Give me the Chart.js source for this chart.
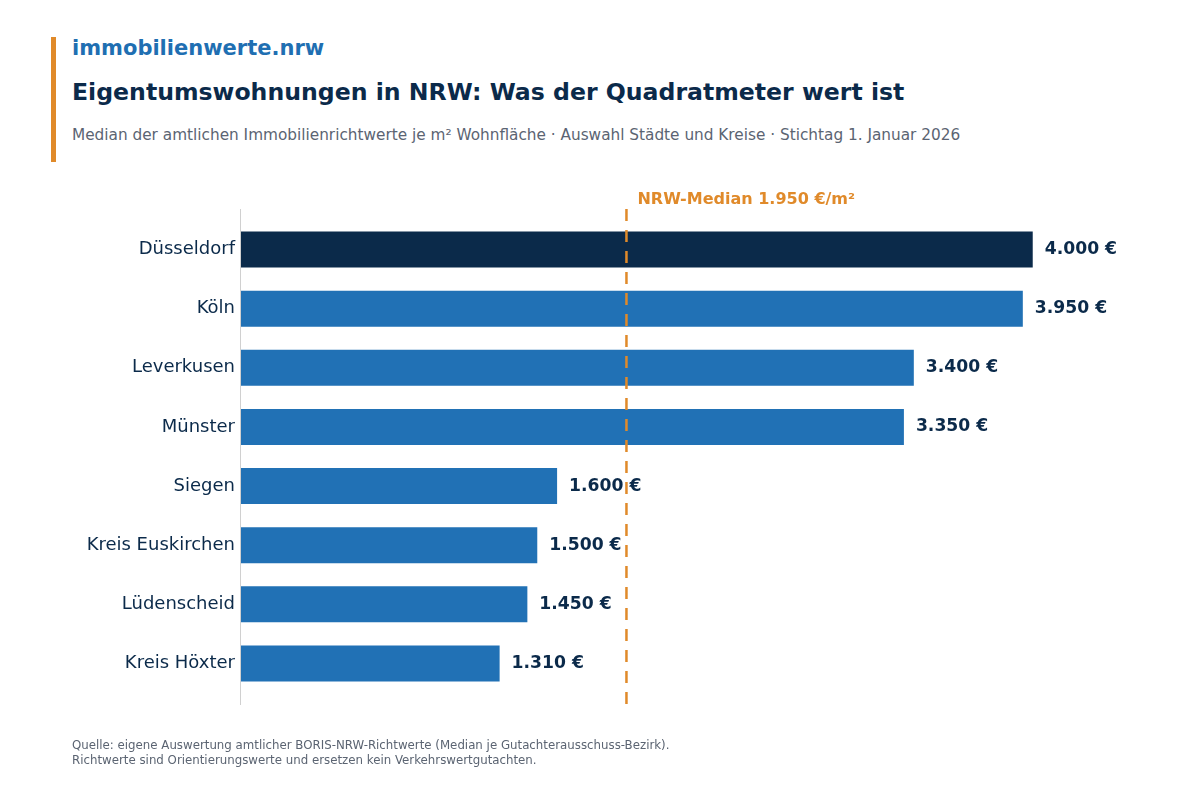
<!DOCTYPE html>
<html lang="de">
<head>
    <meta charset="UTF-8">
    <title>Eigentumswohnungen in NRW</title>
    <script src="https://cdn.jsdelivr.net/npm/chart.js@4"></script>
    <style>
        html, body { margin: 0; padding: 0; background: #fff; }
        body { width: 1200px; height: 800px; position: relative; overflow: hidden; font-family: "DejaVu Sans", sans-serif; }
        .accent { position: absolute; left: 51px; top: 37px; width: 5px; height: 125px; background: #e08a2a; }
        .brand { position: absolute; left: 72px; top: 36px; font-size: 21px; font-weight: 700; color: #1f6fb2; }
        .title { position: absolute; left: 72px; top: 78px; font-size: 23.6px; font-weight: 700; color: #0b2a4a; }
        .subtitle { position: absolute; left: 72px; top: 126px; font-size: 15.3px; color: #5b6472; }
        .footer { position: absolute; left: 72px; top: 738px; font-size: 11.8px; line-height: 15px; color: #5b6472; }
        #wrap { position: absolute; left: 0; top: 0; width: 1200px; height: 800px; }
    </style>
</head>
<body>
    <div class="accent"></div>
    <div class="brand">immobilienwerte.nrw</div>
    <div class="title">Eigentumswohnungen in NRW: Was der Quadratmeter wert ist</div>
    <div class="subtitle">Median der amtlichen Immobilienrichtwerte je m² Wohnfläche · Auswahl Städte und Kreise · Stichtag 1. Januar 2026</div>
    <div id="wrap"><canvas id="chart"></canvas></div>
    <div class="footer">Quelle: eigene Auswertung amtlicher BORIS-NRW-Richtwerte (Median je Gutachterausschuss-Bezirk).<br>Richtwerte sind Orientierungswerte und ersetzen kein Verkehrswertgutachten.</div>
    <script>
        const regionen = ['Düsseldorf', 'Köln', 'Leverkusen', 'Münster', 'Siegen', 'Kreis Euskirchen', 'Lüdenscheid', 'Kreis Höxter'];
        const werte = [4000, 3950, 3400, 3350, 1600, 1500, 1450, 1310];
        const nrwMedian = 1950;

        const navy = '#0b2a4a';
        const blau = '#2171b5';
        const orange = '#e08a2a';

        function euro(v) {
            return String(v).replace(/\B(?=(\d{3})+(?!\d))/g, '.') + ' €';
        }

        // Werte rechts neben den Balken + Medianlinie
        const overlay = {
            id: 'overlay',
            afterDatasetsDraw(chart) {
                const { ctx, chartArea, scales } = chart;
                const top = chartArea.top - 11, bottom = chartArea.bottom + 12;
                ctx.save();
                // linke Achsenlinie
                ctx.strokeStyle = '#d0d0d0';
                ctx.lineWidth = 1;
                ctx.beginPath();
                ctx.moveTo(chartArea.left + 0.5, top);
                ctx.lineTo(chartArea.left + 0.5, bottom);
                ctx.stroke();

                // Balkenbeschriftung
                ctx.font = 'bold 17.2px "DejaVu Sans"';
                ctx.fillStyle = navy;
                ctx.textBaseline = 'middle';
                ctx.textAlign = 'left';
                chart.getDatasetMeta(0).data.forEach((bar, i) => {
                    ctx.fillText(euro(werte[i]), bar.x + 12, bar.y);
                });

                // NRW-Median
                const x = scales.x.getPixelForValue(nrwMedian);
                ctx.strokeStyle = orange;
                ctx.lineWidth = 2.5;
                ctx.setLineDash([12, 9]);
                ctx.beginPath();
                ctx.moveTo(x, top);
                ctx.lineTo(x, bottom);
                ctx.stroke();
                ctx.setLineDash([]);
                ctx.font = 'bold 16px "DejaVu Sans"';
                ctx.fillStyle = orange;
                ctx.fillText('NRW-Median ' + euro(nrwMedian) + '/m²', x + 11, top - 9);
                ctx.restore();
            }
        };

        new Chart(document.getElementById('chart'), {
            type: 'bar',
            data: {
                labels: regionen,
                datasets: [{
                    data: werte,
                    backgroundColor: regionen.map((r, i) => i === 0 ? navy : blau),
                    barPercentage: 0.61,
                    categoryPercentage: 1.0
                }]
            },
            options: {
                indexAxis: 'y',
                responsive: true,
                maintainAspectRatio: false,
                animation: false,
                layout: { padding: { top: 220, bottom: 107, right: 88, left: 0 } },
                plugins: { legend: { display: false }, tooltip: { enabled: false } },
                scales: {
                    x: { display: false, min: 0, max: 4400 },
                    y: {
                        grid: { display: false, drawTicks: false },
                        border: { display: false },
                        ticks: { color: navy, font: { family: 'DejaVu Sans', size: 18 }, padding: 5 },
                        afterFit(scale) { scale.width = 240; }
                    }
                }
            },
            plugins: [overlay]
        });
    </script>
</body>
</html>
